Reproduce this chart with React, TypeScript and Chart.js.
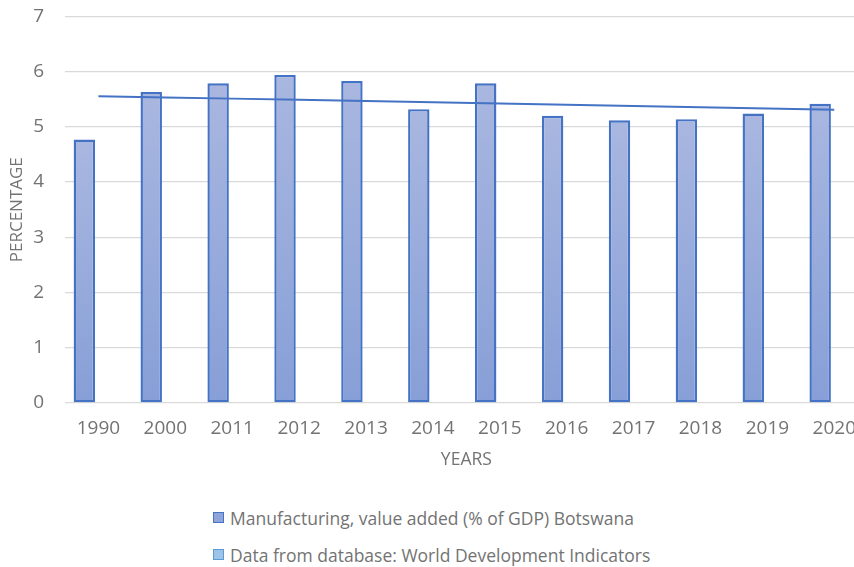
import React, { useEffect, useRef } from "react";
import { Chart, registerables } from "chart.js";

Chart.register(...registerables);

const years = ["1990", "2000", "2011", "2012", "2013", "2014", "2015", "2016", "2017", "2018", "2019", "2020"];
const manufacturing = [4.77, 5.63, 5.79, 5.94, 5.83, 5.32, 5.79, 5.2, 5.12, 5.14, 5.24, 5.42];
const databaseSeries: (number | null)[] = [null, null, null, null, null, null, null, null, null, null, null, null];
const seriesLabels = [
  "Manufacturing, value added (% of GDP) Botswana",
  "Data from database: World Development Indicators",
];
const yMin = 0;
const yMax = 7;
const yStep = 1;
const xTitle = "YEARS";
const yTitle = "PERCENTAGE";

const TEXT = "#737373";
const FONT = "'Open Sans', 'DejaVu Sans', sans-serif";

function linearTrend(values: number[]): number[] {
  const n = values.length;
  const mx = (n - 1) / 2;
  const my = values.reduce((a, b) => a + b, 0) / n;
  let sxy = 0;
  let sxx = 0;
  values.forEach((v, i) => {
    sxy += (i - mx) * (v - my);
    sxx += (i - mx) * (i - mx);
  });
  const slope = sxy / sxx;
  return values.map((_, i) => my + slope * (i - mx));
}

export default function App() {
  const ref = useRef<HTMLCanvasElement | null>(null);

  useEffect(() => {
    if (!ref.current) return;
    const trend = linearTrend(manufacturing);
    const chart = new Chart(ref.current, {
      type: "bar",
      data: {
        labels: years,
        datasets: [
          {
            type: "line",
            label: "Linear",
            data: trend,
            borderColor: "#4472C4",
            borderWidth: 2,
            pointRadius: 0,
            fill: false,
            tension: 0,
            order: 0,
          } as any,
          {
            label: seriesLabels[0],
            data: manufacturing,
            backgroundColor: (ctx: any) => {
              const c = ctx.chart;
              const ys = c.scales && c.scales.y;
              if (!ys || ctx.raw == null) return "#9AADDC";
              const top = ys.getPixelForValue(ctx.raw as number);
              const base = ys.getPixelForValue(0);
              if (!isFinite(top) || !isFinite(base) || top === base) return "#9AADDC";
              const g = c.ctx.createLinearGradient(0, top, 0, base);
              g.addColorStop(0, "#A9B7E0");
              g.addColorStop(1, "#879FD7");
              return g;
            },
            borderColor: "#4472C4",
            borderWidth: 2.4,
            borderSkipped: false,
            categoryPercentage: 0.843,
            barPercentage: 0.76,
            order: 1,
          },
          {
            label: seriesLabels[1],
            data: databaseSeries,
            backgroundColor: "#9DC3E6",
            borderColor: "#5B9BD5",
            borderWidth: 1,
            categoryPercentage: 0.843,
            barPercentage: 0.76,
            order: 2,
          },
        ],
      },
      options: {
        responsive: false,
        animation: false,
        devicePixelRatio: 1,
        layout: { padding: { top: 0, left: 0, right: 0, bottom: 0 } },
        plugins: {
          legend: { display: false },
          tooltip: { enabled: false },
        },
        scales: {
          x: {
            grid: { display: false, drawTicks: false },
            border: { display: false },
            ticks: {
              color: TEXT,
              font: { family: FONT, size: 19 },
              padding: 14,
              maxRotation: 0,
              autoSkip: false,
            },
            title: {
              display: true,
              text: xTitle,
              color: TEXT,
              font: { family: FONT, size: 17.5 },
              padding: { top: 0, bottom: 9.5 },
            },
            afterFit: (s: any) => {
              s.height = 77;
            },
          },
          y: {
            min: yMin,
            max: yMax,
            ticks: {
              stepSize: yStep,
              color: TEXT,
              font: { family: FONT, size: 19 },
              padding: 21,
            },
            grid: { color: "#D9D9D9", lineWidth: 1.3, drawTicks: false },
            border: { display: false },
            title: {
              display: true,
              text: yTitle,
              color: TEXT,
              font: { family: FONT, size: 17 },
              padding: { top: 6.5, bottom: 0 },
            },
            afterFit: (s: any) => {
              s.width = 65;
            },
          },
        },
      },
    });
    return () => chart.destroy();
  }, []);

  const legendColors = [
    { fill: "#8FA4DA", border: "#4472C4" },
    { fill: "#9DC3E6", border: "#5B9BD5" },
  ];

  return (
    <div
      style={{
        position: "fixed",
        left: 0,
        top: 0,
        width: 854,
        height: 567,
        overflow: "hidden",
        background: "#fff",
      }}
    >
      <canvas ref={ref} width={870} height={496} style={{ position: "absolute", left: 0, top: -16 }} />
      <div style={{ position: "absolute", left: 213, top: 499, fontFamily: FONT, fontSize: 17.5, color: TEXT }}>
        {seriesLabels.map((lab, i) => (
          <div key={lab} style={{ display: "flex", alignItems: "center", height: 37, whiteSpace: "nowrap" }}>
            <span
              style={{
                display: "inline-block",
                width: 9,
                height: 9,
                background: legendColors[i].fill,
                border: `1.5px solid ${legendColors[i].border}`,
                marginRight: 6,
              }}
            />
            <span>{lab}</span>
          </div>
        ))}
      </div>
    </div>
  );
}
